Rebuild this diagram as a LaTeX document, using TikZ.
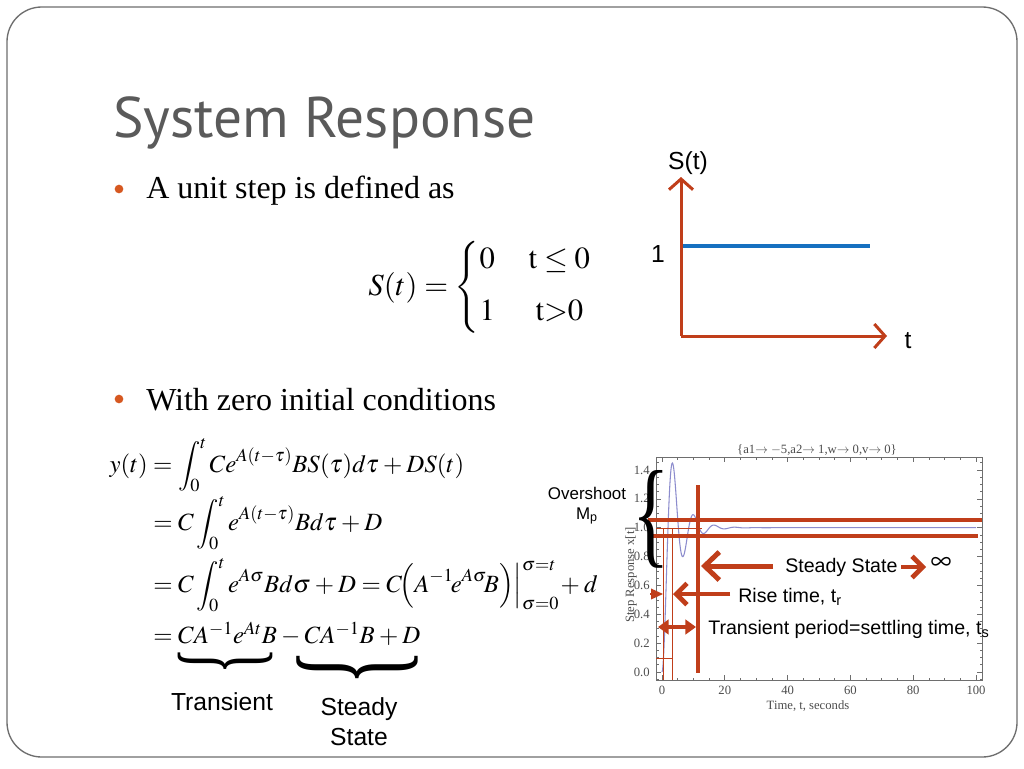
\documentclass[tikz,border=0pt]{standalone}
\usepackage{amsmath}
\usepackage{amssymb}
\usepackage{mathptmx}
\usepackage[no-math]{fontspec}
\setmainfont{Liberation Serif}
\setsansfont{Liberation Sans}
\newfontfamily\titlefont{PT Sans}
\usepackage{graphicx}
\usetikzlibrary{arrows.meta, positioning, calc}
\definecolor{rust}{RGB}{192,62,26}
\definecolor{stepblue}{RGB}{22,112,192}
\definecolor{dotorange}{RGB}{214,88,32}
\definecolor{titlegray}{RGB}{90,90,90}
\definecolor{curveblue}{RGB}{140,140,205}
\definecolor{framegray}{RGB}{110,110,110}
\thickmuskip=4mu plus 2mu
\medmuskip=3mu plus 1mu
\tikzset{
         mytitle/.style={font=\titlefont\fontsize{43}{50}\selectfont, text=titlegray, inner sep=0pt, anchor=base west},
         mydot/.style={circle, fill=dotorange, inner sep=0pt, minimum size=6.5pt},
         mytext/.style={font=\fontsize{24}{29}\selectfont, inner sep=0pt, anchor=base west},
         mymath/.style={font=\fontsize{18.6}{23}\selectfont, inner sep=0pt, anchor=base west},
         mylabel/.style={font=\sffamily\fontsize{18.5}{22.5}\selectfont, inner sep=0pt},
         mynote/.style={font=\sffamily\fontsize{14.7}{17}\selectfont, inner sep=0pt, anchor=west},
         mytick/.style={font=\fontsize{9.5}{10}\selectfont, text=black!70, inner sep=0pt},
         myaxis/.style={rust, line width=2.25pt, -{Straight Barb[length=8pt,width=18pt]}},
         mybar/.style={rust, line width=3.5pt},
         mythin/.style={rust, line width=0.6pt},
         mypoint/.style={rust, line width=3.75pt, -{Straight Barb[length=11pt,width=21pt]}},
         mysmall/.style={rust, line width=3.5pt, -{Straight Barb[length=8pt,width=16pt]}},
         myfill/.style={rust, line width=3.5pt, {Triangle[length=8pt,width=11pt]}-{Triangle[length=8pt,width=11pt]}}
      }

\begin{document}
\begin{tikzpicture}[x=0.75pt, y=-0.75pt,
              myframe/.style={framegray, line width=0.5pt}]
  \fill[white] (0,0) rectangle (1024,768);
  \useasboundingbox (0,0) rectangle (1024,768);
  \draw[framegray, line width=1pt, rounded corners=26pt] (7,7) rectangle (1017,757);

  \node[mytitle] (title) at (113,137) {System Response};
  \node[mydot] (dotA) at (119,189) {};
  \node[mytext] (textA) at (146,198) {A unit step is defined as};
  \node[mydot] (dotB) at (119,399) {};
  \node[mytext] (textB) at (146,410) {With zero initial conditions};

  \node[inner sep=0pt, anchor=base west, font=\fontsize{23}{28}\selectfont] (stepdef) at (368,295)
       {$S(t)=\left\{\begin{array}{@{}c@{\hspace{1.1em}}c@{}}0 & \mathrm{t}\leq 0\\[11pt] 1 & \mathrm{t}{>}0\end{array}\right.$};

  % unit step sketch
  \coordinate (origin) at (681,336);
  \coordinate (ytop) at (681,177);
  \coordinate (xend) at (887,336);
  \coordinate (oneL) at (681,246);
  \coordinate (oneR) at (870,246);
  \draw[stepblue, line width=3pt] (oneL) -- (oneR);
  \draw[myaxis] (origin) -- (ytop);
  \draw[myaxis] (origin) -- (xend);
  \node[mylabel] (slab) at (688,163) {S(t)};
  \node[mylabel] (onelab) at (658,254) {1};
  \node[mylabel] (tlab) at (908,341) {t};

  % derivation
  \node[mymath] (eqA) at (153,472) {\llap{$y(t)\;$}$=\displaystyle\int_0^t Ce^{A(t-\tau)}BS(\tau)d\tau+DS(t)$};
  \node[mymath] (eqB) at (153,530) {$=C\displaystyle\int_0^t e^{A(t-\tau)}Bd\tau+D$};
  \node[mymath] (eqC) at (153,592) {$=C\displaystyle\int_0^t e^{A\sigma}Bd\sigma+D=C\!\Big(A^{-1}\!e^{A\sigma}\!B\Big)\Big|_{\sigma=0}^{\sigma=t}\!+d$};
  \node[mymath] (eqD) at (153,643) {$=CA^{-1}e^{At}B-CA^{-1}B+D$};
  \node[inner sep=0pt] (braceA) at (225,661) {\resizebox{71pt}{20pt}{\rotatebox{90}{\{}}};
  \node[inner sep=0pt] (braceB) at (357,667) {\resizebox{91pt}{27pt}{\rotatebox{90}{\{}}};
  \node[mylabel] (transient) at (222,702) {Transient};
  \node[mylabel, align=center] (steady) at (359,722) {Steady\\State};

  % step response plot
  \foreach \k in {-1,...,29}{
    \pgfmathsetmacro{\ty}{672-7.215*\k}
    \pgfmathsetmacro{\tl}{ifthenelse(mod(\k,4)==0,5,2.5)}
    \draw[myframe] (656,\ty) -- ++(\tl,0) (982,\ty) -- ++(-\tl,0);
  }
  \foreach \k in {0,...,20}{
    \pgfmathsetmacro{\tx}{662+15.7*\k}
    \pgfmathsetmacro{\tl}{ifthenelse(mod(\k,4)==0,5,2.5)}
    \draw[myframe] (\tx,680) -- ++(0,-\tl) (\tx,457) -- ++(0,\tl);
  }
  \draw[myframe] (656,457) rectangle (982,680);
  \foreach \lab [count=\i from 0] in {0.0,0.2,0.4,0.6,0.8,1.0,1.2,1.4}
    \node[mytick, anchor=east] (ylab\i) at (650,{672-28.86*\i}) {\lab};
  \foreach \lab [count=\i from 0] in {0,20,40,60,80,100}
    \node[mytick] (xlab\i) at ({662+62.8*\i},690) {\lab};
  \node[mytick] (ptitle) at (817,450) {\{a1$\to$ $-$5,a2$\to$ 1,w$\to$ 0,v$\to$ 0\}};
  \node[mytick] (xname) at (808,706) {Time, t, seconds};
  \node[mytick, rotate=90] (yname) at (631,575) {Step Response x[t]};
  \draw[curveblue, line width=0.8pt] plot[domain=0:40, samples=240]
       ({662+3.14*\x},{672-144.3*(1-exp(-0.243*\x)*(cos(deg(0.952*\x))+0.255*sin(deg(0.952*\x))))})
       -- (976,527.7);

  \draw[mythin] (656,528) -- (702,528);
  \draw[mythin] (656,658) -- (672,658);
  \draw[mythin] (663,528) -- (663,680);
  \draw[mythin] (672,528) -- (672,680);
  \draw[mybar] (648,520) -- (982,520);
  \draw[mybar] (648,536) -- (978,536);
  \draw[mybar] (698,485) -- (698,673);

  \node[inner sep=0pt] (obrace) at (651,519) {\resizebox{28pt}{61.5pt}{\{}};
  \node[font=\sffamily\fontsize{12.7}{14.5}\selectfont, align=center, inner sep=0pt] (overshoot) at (587,506) {Overshoot\\M\textsubscript{p}};

  \coordinate (ssTail) at (773,566);
  \coordinate (ssTip) at (701,566);
  \draw[mypoint] (ssTail) -- (ssTip);
  \node[mynote] (sslab) at (785,567) {Steady State};
  \coordinate (infA) at (901,567);
  \coordinate (infB) at (926,567);
  \draw[mysmall] (infA) -- (infB);
  \node[font=\fontsize{22}{24}\selectfont, inner sep=0pt] (inf) at (941,564) {$\infty$};

  \coordinate (rtTail) at (730,594);
  \coordinate (rtTip) at (673,594);
  \draw[mysmall] (rtTail) -- (rtTip);
  \coordinate (rtA) at (650,594);
  \coordinate (rtB) at (663,594);
  \draw[rust, line width=1pt, -{Triangle[length=9pt,width=8pt]}] (rtA) -- (rtB);
  \node[mynote] (rtlab) at (738,597) {Rise time, t\textsubscript{r}};

  \coordinate (tpL) at (658,627);
  \coordinate (tpR) at (696,627);
  \draw[myfill] (tpL) -- (tpR);
  \node[mynote] (tplab) at (708,629) {Transient period=settling time, t\textsubscript{s}};
\end{tikzpicture}
\end{document}
